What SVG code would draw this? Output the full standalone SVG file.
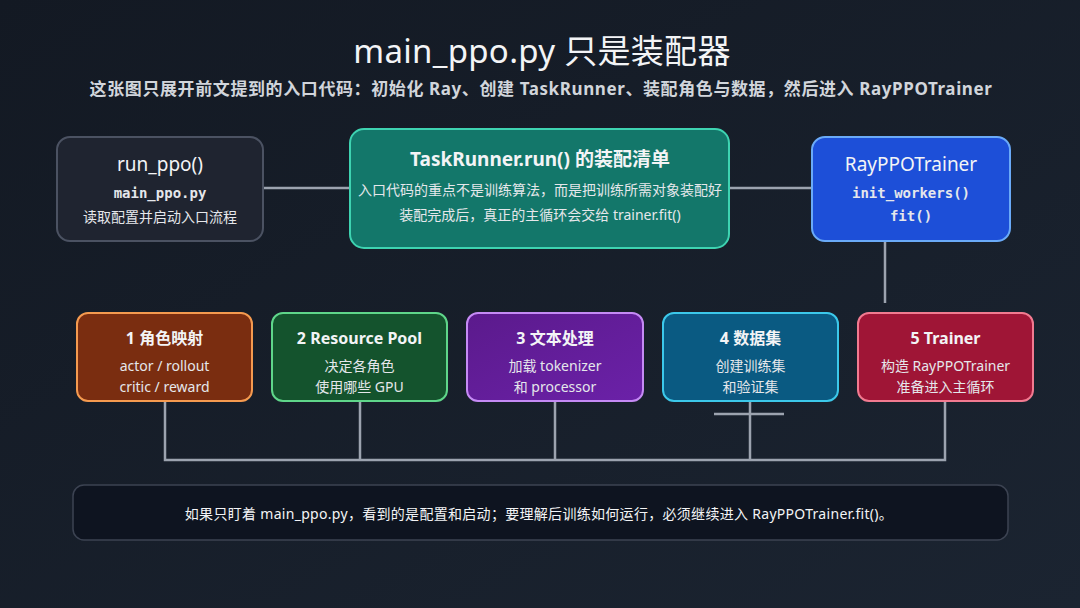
<svg xmlns="http://www.w3.org/2000/svg" width="1080" height="608" viewBox="0 0 1080 608">
<defs>
<linearGradient id="bg" x1="0" y1="0" x2="1" y2="1">
<stop offset="0" stop-color="#131923"/><stop offset="1" stop-color="#1b2431"/>
</linearGradient>
<linearGradient id="pur" x1="0" y1="0" x2="1" y2="1">
<stop offset="0" stop-color="#5b1a8c"/><stop offset="1" stop-color="#6b21a8"/>
</linearGradient>
<style>
.t{font-family:"Noto Sans","Noto Sans CJK SC",sans-serif;fill:#f3f4f6;text-anchor:middle}
.h{font-size:19px}
.b{font-weight:700;font-size:16px}
.s{font-size:14px;fill:#e5e7eb}
.m{font-family:"DejaVu Sans Mono","Liberation Mono",monospace;font-weight:700;font-size:14px;fill:#e5e7eb;text-anchor:middle}
.ln{stroke:#9ca3af;stroke-width:2.5;fill:none}
</style>
</defs>
<rect width="1080" height="608" fill="url(#bg)"/>
<text class="t" x="542" y="63" font-size="33" letter-spacing="0.3">main_ppo.py 只是装配器</text>
<text class="t" x="541" y="95" font-size="17" font-weight="700" letter-spacing="0.6" style="fill:#d1d5db">这张图只展开前文提到的入口代码：初始化 Ray、创建 TaskRunner、装配角色与数据，然后进入 RayPPOTrainer</text>
<g id="connectors">
<line class="ln" x1="263" y1="188" x2="350" y2="188"/>
<line class="ln" x1="729" y1="188" x2="812" y2="188"/>
<line class="ln" x1="885" y1="241" x2="885" y2="303"/>
<path class="ln" d="M165 401V460H945V401M360 401V460M555 401V460M750 401V460"/>
<line class="ln" x1="714" y1="414" x2="784" y2="414"/>
</g>
<g id="run_ppo">
<rect x="57" y="137" width="206" height="104" rx="13" fill="#1f2430" stroke="#4b5262" stroke-width="2"/>
<text class="t h" x="160" y="171">run_ppo()</text>
<text class="m" x="160" y="198">main_ppo.py</text>
<text class="t s" x="160" y="222">读取配置并启动入口流程</text>
</g>
<g id="taskrunner">
<rect x="350" y="129" width="379" height="119" rx="14" fill="#13776a" stroke="#3ed3b1" stroke-width="2"/>
<text class="t" x="540" y="166" font-size="19" font-weight="700">TaskRunner.run() 的装配清单</text>
<text class="t s" x="540" y="195">入口代码的重点不是训练算法，而是把训练所需对象装配好</text>
<text class="t s" x="540" y="220">装配完成后，真正的主循环会交给 trainer.fit()</text>
</g>
<g id="rayppotrainer">
<rect x="812" y="137" width="198" height="104" rx="13" fill="#1d4fd8" stroke="#6aaaf8" stroke-width="2"/>
<text class="t h" x="911" y="171">RayPPOTrainer</text>
<text class="m" x="911" y="198">init_workers()</text>
<text class="m" x="911" y="221">fit()</text>
</g>
<g id="n1">
<rect x="77" y="313" width="175" height="88" rx="11" fill="#7a2d10" stroke="#f59a4f" stroke-width="2"/>
<text class="t b" x="164.5" y="344">1 角色映射</text>
<text class="t s" x="164.5" y="371">actor / rollout</text>
<text class="t s" x="164.5" y="392">critic / reward</text>
</g>
<g id="n2">
<rect x="272" y="313" width="175" height="88" rx="11" fill="#14532d" stroke="#5fd68a" stroke-width="2"/>
<text class="t b" x="359.5" y="344">2 Resource Pool</text>
<text class="t s" x="359.5" y="371">决定各角色</text>
<text class="t s" x="359.5" y="392">使用哪些 GPU</text>
</g>
<g id="n3">
<rect x="467" y="313" width="176" height="88" rx="11" fill="url(#pur)" stroke="#c58af5" stroke-width="2"/>
<text class="t b" x="555" y="344">3 文本处理</text>
<text class="t s" x="555" y="371">加载 tokenizer</text>
<text class="t s" x="555" y="392">和 processor</text>
</g>
<g id="n4">
<rect x="663" y="313" width="175" height="88" rx="11" fill="#0a5a82" stroke="#3cc8ea" stroke-width="2"/>
<text class="t b" x="750.5" y="344">4 数据集</text>
<text class="t s" x="750.5" y="371">创建训练集</text>
<text class="t s" x="750.5" y="392">和验证集</text>
</g>
<g id="n5">
<rect x="858" y="313" width="175" height="88" rx="11" fill="#9f1536" stroke="#f27a90" stroke-width="2"/>
<text class="t b" x="945.5" y="344">5 Trainer</text>
<text class="t s" x="945.5" y="371">构造 RayPPOTrainer</text>
<text class="t s" x="945.5" y="392">准备进入主循环</text>
</g>
<g id="note">
<rect x="73" y="485" width="935" height="55" rx="11" fill="#0e1420" stroke="#3c4352" stroke-width="1.5"/>
<text class="t" x="539" y="519" font-size="14" letter-spacing="0.3">如果只盯着 main_ppo.py，看到的是配置和启动；要理解后训练如何运行，必须继续进入 RayPPOTrainer.fit()。</text>
</g>
</svg>
